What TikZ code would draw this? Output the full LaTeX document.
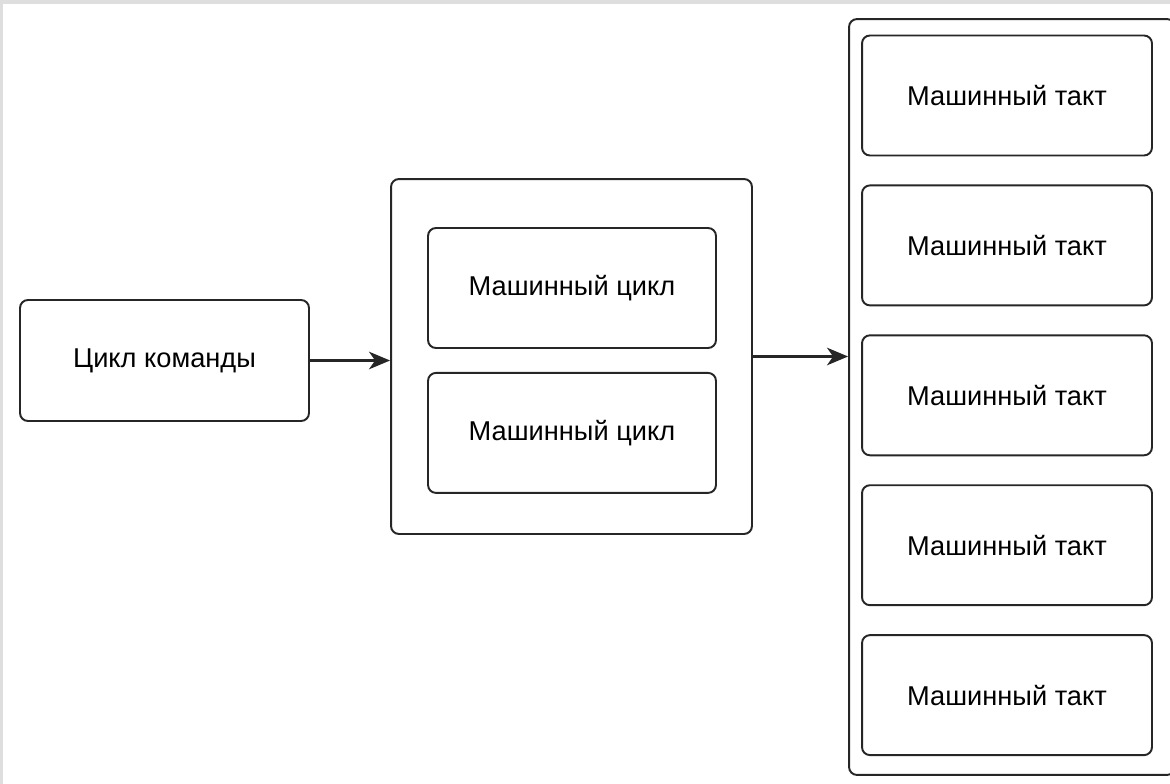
\documentclass[tikz,border=0pt]{standalone}
\usepackage{fontspec}
\setmainfont{Liberation Sans}
\usetikzlibrary{arrows.meta,positioning,calc}
\definecolor{bggray}{RGB}{222,222,222}
\tikzset{box/.style={draw=black!85, line width=1.1pt, rounded corners=4.5pt, fill=white, text centered, font=\fontsize{15.5pt}{18pt}\selectfont, minimum width=5.78cm, minimum height=2.42cm, inner sep=0pt}}
\tikzset{frame/.style={draw=black!85, line width=1.1pt, rounded corners=4.5pt, fill=white, inner sep=0pt}}
\tikzset{line/.style={draw=black!85, line width=1.2pt, -{Stealth[length=12pt, width=10pt, inset=3.5pt]}}}

\begin{document}
\begin{tikzpicture}[x=0.02cm, y=-0.02cm]
		% background
		\fill [bggray] (0,0) rectangle (1170,784);
		\fill [white] (3,4) rectangle (1170,784);
		\useasboundingbox (0,0) rectangle (1170,784);

		\node [box]										(cmd) at (164.5,360.5) {Цикл команды};

		\node [frame, minimum width=7.22cm, minimum height=7.1cm]		(cycles) at (571.5,356.5) {};
		\node [box, minimum width=5.76cm, minimum height=2.4cm]		(cyc1) at (572,288) {Машинный цикл};
		\node [box, minimum width=5.76cm, minimum height=2.4cm, below=0.46cm of cyc1]	(cyc2) {Машинный цикл};

		\node [frame, minimum width=6.52cm, minimum height=15.12cm]	(tacts) at (1012,397) {};
		\node [box, minimum width=5.8cm, minimum height=2.4cm]		(t1) at (1007,95.5) {Машинный такт};
		\node [box, minimum width=5.8cm, minimum height=2.4cm, below=0.56cm of t1]	(t2) {Машинный такт};
		\node [box, minimum width=5.8cm, minimum height=2.4cm, below=0.56cm of t2]	(t3) {Машинный такт};
		\node [box, minimum width=5.8cm, minimum height=2.4cm, below=0.56cm of t3]	(t4) {Машинный такт};
		\node [box, minimum width=5.8cm, minimum height=2.4cm, below=0.56cm of t4]	(t5) {Машинный такт};

		\path [line] (cmd.east) -- (cmd.east -| cycles.west);
		\path [line] (cycles.east) -- (cycles.east -| tacts.west);
	\end{tikzpicture}
\end{document}
